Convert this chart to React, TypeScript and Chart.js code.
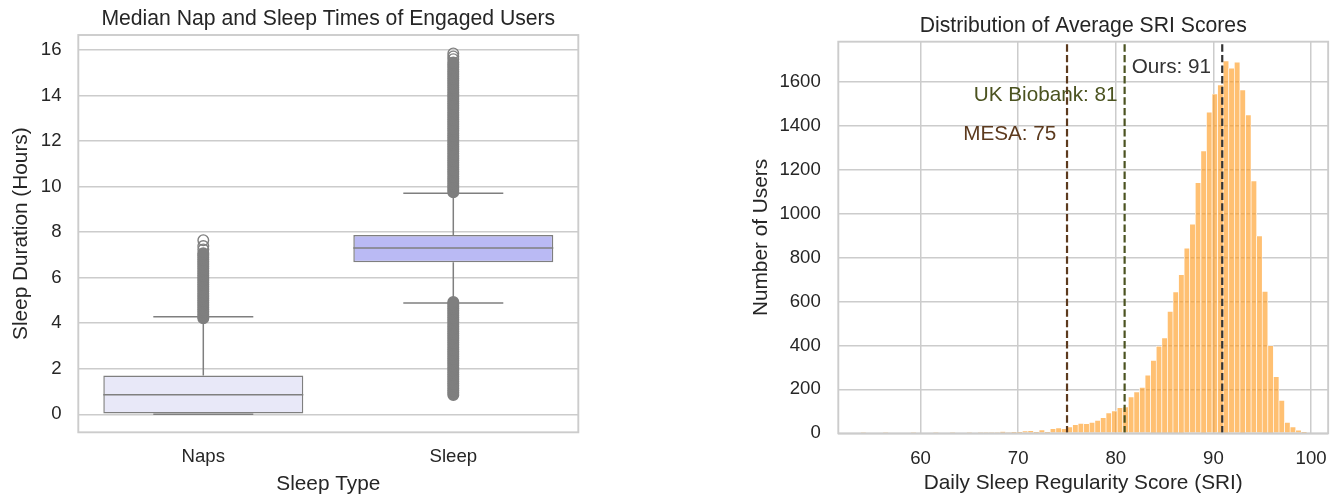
import React, { useEffect, useRef } from 'react';
import { Chart, registerables } from 'chart.js';

Chart.register(...registerables);

const FONT = '"Liberation Sans", Arial, Helvetica, sans-serif';
const TEXT = '#262626';
const GRID = '#cccccc';
const BOX_LINE = '#7f7f7f';

// ---------- Left panel: box plot ----------
const boxTitle = 'Median Nap and Sleep Times of Engaged Users';
const boxXLabel = 'Sleep Type';
const boxYLabel = 'Sleep Duration (Hours)';
const boxCategories = ['Naps', 'Sleep'];
const boxQ1 = [0, 6.68];
const boxMedian = [0.86, 7.3];
const boxQ3 = [1.71, 7.88];
const whiskerLow = [0, 4.89];
const whiskerHigh = [4.29, 9.71];
const boxFills = ['#e8e8f8', '#babaf4'];
// dense outlier runs (overlapping markers read as a solid column)
const napOutliers = [
  4.22, 4.3, 4.4, 4.5, 4.6, 4.7, 4.8, 4.9, 5.0, 5.1, 5.2, 5.3, 5.4, 5.5, 5.6, 5.7, 5.8, 5.9,
  6.0, 6.1, 6.2, 6.3, 6.4, 6.5, 6.6, 6.7, 6.8, 6.9, 7.0, 7.07,
];
const sleepOutliersHigh = [
  9.75, 9.85, 9.95, 10.05, 10.15, 10.25, 10.35, 10.45, 10.55, 10.65, 10.75, 10.85, 10.95,
  11.05, 11.15, 11.25, 11.35, 11.45, 11.55, 11.65, 11.75, 11.85, 11.95, 12.05, 12.15, 12.25,
  12.35, 12.45, 12.55, 12.65, 12.75, 12.85, 12.95, 13.05, 13.15, 13.25, 13.35, 13.45, 13.55,
  13.65, 13.75, 13.85, 13.95, 14.05, 14.15, 14.25, 14.35, 14.45, 14.55, 14.65, 14.75, 14.85,
  14.95, 15.05, 15.15, 15.25, 15.35, 15.45,
];
const sleepOutliersLow = [
  0.85, 0.95, 1.05, 1.15, 1.25, 1.35, 1.45, 1.55, 1.65, 1.75, 1.85, 1.95, 2.05, 2.15, 2.25,
  2.35, 2.45, 2.55, 2.65, 2.75, 2.85, 2.95, 3.05, 3.15, 3.25, 3.35, 3.45, 3.55, 3.65, 3.75,
  3.85, 3.95, 4.05, 4.15, 4.25, 4.35, 4.45, 4.55, 4.65, 4.75, 4.85, 4.93,
];
// sparse outliers at the top ends (visible as open circles)
const napOutliersSparse = [7.24, 7.39, 7.65];
const sleepOutliersSparse = [15.6, 15.72, 15.85];
const boxYTicks = [0, 2, 4, 6, 8, 10, 12, 14, 16];
const boxYMin = -0.79;
const boxYMax = 16.66;

// ---------- Right panel: histogram ----------
const sriTitle = 'Distribution of Average SRI Scores';
const sriXLabel = 'Daily Sleep Regularity Score (SRI)';
const sriYLabel = 'Number of Users';
const sriBinStart = 53.85;
const sriBinWidth = 0.5715;
const sriCounts = [
  1, 0, 0, 0, 1, 0, 0, 0, 0, 1, 0, 0, 0, 1, 0, 0, 1, 0, 0, 1, 0, 1, 1, 2, 1,
  8, 3, 6, 6, 11, 12, 5, 15, 6, 21, 24, 21, 29, 39, 45, 44, 50, 59, 71, 93, 102, 117, 120,
  165, 188, 209, 265, 332, 397, 434, 555, 643, 722, 842, 952, 1140, 1285, 1461, 1544, 1585,
  1694, 1661, 1689, 1562, 1449, 1148, 898, 646, 399, 258, 150, 50, 29, 14, 5,
];
const sriXTicks = [60, 70, 80, 90, 100];
const sriYTicks = [0, 200, 400, 600, 800, 1000, 1200, 1400, 1600];
const sriXMin = 51.57;
const sriXMax = 101.75;
const sriYMax = 1782;
const refLabels = ['MESA: 75', 'UK Biobank: 81', 'Ours: 91'];
const refValues = [75, 80.9, 90.9];
const refColors = ['#5c3a1e', '#4b5320', '#333333'];
const refLabelX = [73.9, 80.18, 89.76];
const refLabelY = [1335, 1514, 1638];

function framePlugin(title: string, extra?: (chart: any) => void) {
  return {
    id: 'frame',
    afterDatasetsDraw(chart: any) {
      const { ctx, chartArea: a } = chart;
      ctx.save();
      ctx.strokeStyle = GRID;
      ctx.lineWidth = 1.9;
      ctx.strokeRect(a.left, a.top, a.right - a.left, a.bottom - a.top);
      ctx.font = `21.2px ${FONT}`;
      ctx.fillStyle = TEXT;
      ctx.textAlign = 'center';
      ctx.textBaseline = 'alphabetic';
      ctx.fillText(title, (a.left + a.right) / 2, a.top - 10);
      ctx.restore();
      if (extra) extra(chart);
    },
  };
}

function segment(points: { x: number; y: number }[], order: number) {
  return {
    type: 'line',
    xAxisID: 'xo',
    data: points,
    borderColor: BOX_LINE,
    borderWidth: 1.5,
    pointRadius: 0,
    fill: false,
    tension: 0,
    order,
  };
}

function outlierSet(idx: number, vals: number[], filled: boolean) {
  return {
    type: 'line',
    xAxisID: 'xo',
    showLine: false,
    data: vals.map((v) => ({ x: idx, y: v })),
    pointRadius: 5.3,
    pointBorderWidth: 1.4,
    pointBorderColor: BOX_LINE,
    pointBackgroundColor: filled ? BOX_LINE : 'rgba(0,0,0,0)',
    order: 0,
  };
}

function leftConfig(): any {
  const lines: any[] = [];
  boxCategories.forEach((_, i) => {
    lines.push(segment([{ x: i, y: boxQ3[i] }, { x: i, y: whiskerHigh[i] }], 3));
    lines.push(segment([{ x: i, y: whiskerLow[i] }, { x: i, y: boxQ1[i] }], 3));
    lines.push(segment([{ x: i - 0.2, y: whiskerHigh[i] }, { x: i + 0.2, y: whiskerHigh[i] }], 3));
    lines.push(segment([{ x: i - 0.2, y: whiskerLow[i] }, { x: i + 0.2, y: whiskerLow[i] }], 3));
    lines.push(segment([{ x: i - 0.4, y: boxMedian[i] }, { x: i + 0.4, y: boxMedian[i] }], 1));
  });
  const outliers = [
    outlierSet(0, napOutliers, true),
    outlierSet(0, napOutliersSparse, false),
    outlierSet(1, sleepOutliersHigh, true),
    outlierSet(1, sleepOutliersSparse, false),
    outlierSet(1, sleepOutliersLow, true),
  ];
  return {
    type: 'bar',
    data: {
      labels: boxCategories,
      datasets: [
        {
          type: 'bar',
          data: boxCategories.map((_, i) => [boxQ1[i], boxQ3[i]]),
          backgroundColor: boxFills,
          borderColor: BOX_LINE,
          borderWidth: 1.5,
          borderSkipped: false,
          grouped: false,
          barPercentage: 0.8,
          categoryPercentage: 1,
          order: 2,
        },
        ...lines,
        ...outliers,
      ],
    },
    options: {
      animation: false,
      responsive: false,
      devicePixelRatio: 1,
      events: [],
      layout: { padding: { left: 0, right: 1341 - 578.3, top: 35, bottom: 0 } },
      plugins: { legend: { display: false }, tooltip: { enabled: false } },
      scales: {
        x: {
          type: 'category',
          offset: true,
          grid: { display: false, drawTicks: false },
          border: { display: false },
          ticks: { font: { size: 18.6, family: FONT }, color: TEXT, padding: 13.4, maxRotation: 0 },
          title: {
            display: true,
            text: boxXLabel,
            font: { size: 20.8, family: FONT },
            color: TEXT,
            padding: { top: 0, bottom: 3.1 },
          },
          afterFit: (s: any) => {
            s.height = 500 - 432.3;
          },
        },
        xo: { type: 'linear', display: false, min: -0.5, max: 1.5, offset: false },
        y: {
          type: 'linear',
          min: boxYMin,
          max: boxYMax,
          afterBuildTicks: (s: any) => {
            s.ticks = boxYTicks.map((v) => ({ value: v }));
          },
          grid: { color: GRID, lineWidth: 1.5, drawTicks: false },
          border: { display: false },
          ticks: {
            font: { size: 18.6, family: FONT },
            color: TEXT,
            padding: 16.8,
            autoSkip: false,
            callback: (v: any) => String(v),
          },
          title: {
            display: true,
            text: boxYLabel,
            font: { size: 20.8, family: FONT },
            color: TEXT,
            padding: { top: 8.5, bottom: 0 },
          },
          afterFit: (s: any) => {
            s.width = 78.3;
          },
        },
      },
    },
    plugins: [framePlugin(boxTitle)],
  };
}

function rightConfig(): any {
  const bars = sriCounts.map((c, k) => ({ x: sriBinStart + (k + 0.5) * sriBinWidth, y: c }));
  const refLines = refValues.map((v, i) => ({
    type: 'line',
    data: [
      { x: v, y: 0 },
      { x: v, y: sriYMax },
    ],
    borderColor: refColors[i],
    borderWidth: 2.2,
    borderDash: [7.4, 3.2],
    pointRadius: 0,
    fill: false,
    order: 0,
  }));
  const annotate = (chart: any) => {
    const { ctx } = chart;
    const xs = chart.scales.x;
    const ys = chart.scales.y;
    ctx.save();
    ctx.font = `20.7px ${FONT}`;
    ctx.textAlign = 'right';
    ctx.textBaseline = 'alphabetic';
    refLabels.forEach((t, i) => {
      ctx.fillStyle = refColors[i];
      ctx.fillText(t, xs.getPixelForValue(refLabelX[i]), ys.getPixelForValue(refLabelY[i]));
    });
    ctx.restore();
  };
  return {
    type: 'bar',
    data: {
      datasets: [
        {
          type: 'bar',
          data: bars,
          backgroundColor: 'rgba(255,150,20,0.6)',
          borderColor: '#ffffff',
          borderWidth: 0.65,
          borderSkipped: 'start',
          barPercentage: 1,
          categoryPercentage: 1,
          order: 1,
        },
        ...refLines,
      ],
    },
    options: {
      animation: false,
      responsive: false,
      devicePixelRatio: 1,
      events: [],
      layout: { padding: { left: 700, right: 9, top: 41.7, bottom: 0 } },
      plugins: { legend: { display: false }, tooltip: { enabled: false } },
      scales: {
        x: {
          type: 'linear',
          min: sriXMin,
          max: sriXMax,
          offset: false,
          afterBuildTicks: (s: any) => {
            s.ticks = sriXTicks.map((v) => ({ value: v }));
          },
          grid: { color: GRID, lineWidth: 1.5, drawTicks: false, offset: false },
          border: { display: false },
          ticks: {
            font: { size: 18.6, family: FONT },
            color: TEXT,
            padding: 14.1,
            autoSkip: false,
            maxRotation: 0,
            callback: (v: any) => String(v),
          },
          title: {
            display: true,
            text: sriXLabel,
            font: { size: 20.8, family: FONT },
            color: TEXT,
            padding: { top: 0, bottom: 3.8 },
          },
          afterFit: (s: any) => {
            s.height = 500 - 433.3;
          },
        },
        y: {
          type: 'linear',
          min: 0,
          max: sriYMax,
          afterBuildTicks: (s: any) => {
            s.ticks = sriYTicks.map((v) => ({ value: v }));
          },
          grid: { color: GRID, lineWidth: 1.5, drawTicks: false },
          border: { display: false },
          ticks: {
            font: { size: 18.6, family: FONT },
            color: TEXT,
            padding: 17.5,
            autoSkip: false,
            callback: (v: any) => String(v),
          },
          title: {
            display: true,
            text: sriYLabel,
            font: { size: 20.8, family: FONT },
            color: TEXT,
            padding: { top: 48.5, bottom: 0 },
          },
          afterFit: (s: any) => {
            s.width = 838.3 - 700;
          },
        },
      },
    },
    plugins: [framePlugin(sriTitle, annotate)],
  };
}

export default function App() {
  const leftRef = useRef<HTMLCanvasElement>(null);
  const rightRef = useRef<HTMLCanvasElement>(null);

  useEffect(() => {
    Chart.defaults.font.family = FONT;
    Chart.defaults.color = TEXT;
    const left = new Chart(leftRef.current as HTMLCanvasElement, leftConfig());
    const right = new Chart(rightRef.current as HTMLCanvasElement, rightConfig());
    return () => {
      left.destroy();
      right.destroy();
    };
  }, []);

  const canvasStyle: React.CSSProperties = {
    position: 'absolute',
    left: 0,
    top: 0,
    width: 1341,
    height: 500,
  };

  return (
    <div
      style={{
        position: 'fixed',
        left: 0,
        top: 0,
        width: 1341,
        height: 500,
        background: '#ffffff',
        overflow: 'hidden',
      }}
    >
      <canvas ref={leftRef} width={1341} height={500} style={canvasStyle} />
      <canvas ref={rightRef} width={1341} height={500} style={canvasStyle} />
    </div>
  );
}
